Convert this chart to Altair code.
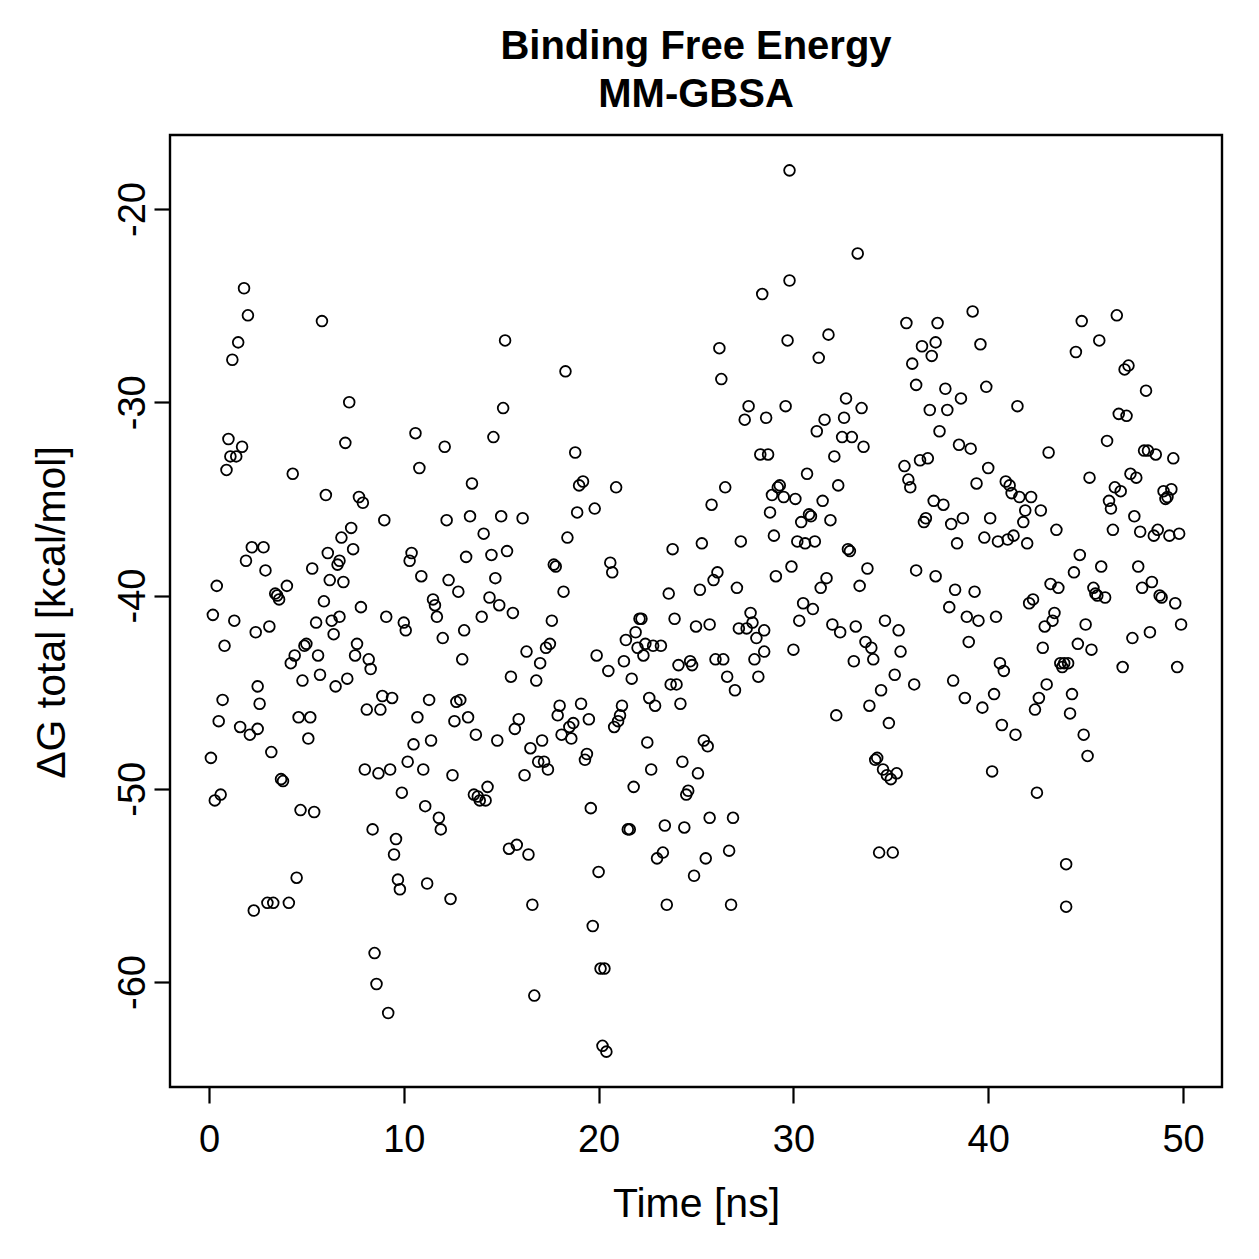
import altair as alt
import pandas as pd

# Simulation time of each frame (ns)
time_ns = [
    0.1, 0.2, 0.3, 0.4, 0.5, 0.6, 0.7, 0.8, 0.9, 1.0,
    1.1, 1.2, 1.3, 1.4, 1.5, 1.6, 1.7, 1.8, 1.9, 2.0,
    2.1, 2.2, 2.3, 2.4, 2.5, 2.6, 2.5, 2.8, 2.9, 3.0,
    3.1, 3.2, 3.3, 3.4, 3.5, 3.6, 3.7, 3.8, 4.0, 4.1,
    4.2, 4.3, 4.4, 4.5, 4.6, 4.7, 4.8, 4.9, 5.0, 5.1,
    5.2, 5.3, 5.4, 5.5, 5.6, 5.7, 5.8, 5.9, 6.0, 6.1,
    6.2, 6.3, 6.4, 6.5, 6.6, 6.7, 6.7, 6.8, 6.9, 7.0,
    7.1, 7.2, 7.3, 7.4, 7.5, 7.6, 7.7, 7.8, 7.9, 8.0,
    8.1, 8.2, 8.3, 8.4, 8.5, 8.6, 8.7, 8.8, 8.9, 9.0,
    9.1, 9.2, 9.3, 9.4, 9.5, 9.6, 9.7, 9.8, 9.9, 10.0,
    10.1, 10.2, 10.3, 10.4, 10.5, 10.6, 10.7, 10.8, 10.9, 11.0,
    11.1, 11.2, 11.3, 11.4, 11.5, 11.6, 11.7, 11.8, 11.9, 12.0,
    12.1, 12.2, 12.3, 12.4, 12.5, 12.6, 12.7, 12.8, 12.9, 13.0,
    13.1, 13.2, 13.3, 13.4, 13.5, 13.6, 13.7, 13.8, 13.9, 14.0,
    14.1, 14.2, 14.3, 14.4, 14.5, 14.6, 14.7, 14.8, 14.9, 15.0,
    15.1, 15.2, 15.3, 15.4, 15.5, 15.6, 15.7, 15.8, 15.9, 16.1,
    16.2, 16.3, 16.4, 16.5, 16.6, 16.7, 16.8, 16.9, 17.0, 17.1,
    17.2, 17.3, 17.4, 17.5, 17.6, 17.7, 17.8, 17.9, 18.0, 18.1,
    18.2, 18.3, 18.4, 18.5, 18.6, 18.7, 18.8, 18.9, 19.0, 19.1,
    19.2, 19.3, 19.4, 19.5, 19.6, 19.7, 19.8, 19.9, 20.0, 20.1,
    20.2, 20.3, 20.4, 20.5, 20.6, 20.7, 20.8, 20.9, 21.0, 21.1,
    21.2, 21.3, 21.4, 21.5, 21.6, 21.7, 21.8, 21.9, 22.0, 22.1,
    22.2, 22.3, 22.4, 22.5, 22.6, 22.7, 22.8, 22.9, 23.0, 23.2,
    23.3, 23.4, 23.5, 23.6, 23.7, 23.8, 23.9, 24.0, 24.1, 24.2,
    24.3, 24.4, 24.5, 24.6, 24.7, 24.8, 24.9, 25.0, 25.1, 25.2,
    25.3, 25.4, 25.5, 25.6, 25.7, 25.7, 25.8, 25.9, 26.0, 26.1,
    26.2, 26.3, 26.4, 26.5, 26.6, 26.7, 26.8, 26.9, 27.0, 27.1,
    27.2, 27.3, 27.5, 27.6, 27.7, 27.8, 27.9, 28.0, 28.1, 28.2,
    28.3, 28.4, 28.5, 28.5, 28.6, 28.7, 28.8, 28.9, 29.0, 29.1,
    29.2, 29.3, 29.5, 29.6, 29.7, 29.8, 29.8, 29.9, 30.0, 30.1,
    30.2, 30.3, 30.4, 30.5, 30.6, 30.7, 30.8, 30.9, 31.0, 31.1,
    31.2, 31.3, 31.4, 31.5, 31.6, 31.7, 31.8, 31.9, 32.0, 32.1,
    32.2, 32.3, 32.4, 32.5, 32.6, 32.7, 32.8, 32.9, 33.0, 33.1,
    33.2, 33.3, 33.4, 33.5, 33.6, 33.7, 33.8, 33.9, 34.0, 34.1,
    34.2, 34.3, 34.4, 34.5, 34.6, 34.7, 34.8, 34.9, 35.0, 35.1,
    35.2, 35.3, 35.4, 35.5, 35.7, 35.8, 35.9, 36.0, 36.1, 36.2,
    36.3, 36.3, 36.5, 36.6, 36.7, 36.8, 36.9, 37.0, 37.1, 37.2,
    37.3, 37.3, 37.4, 37.5, 37.7, 37.8, 37.9, 38.0, 38.1, 38.2,
    38.3, 38.4, 38.5, 38.6, 38.7, 38.8, 38.9, 39.0, 39.1, 39.2,
    39.3, 39.4, 39.5, 39.6, 39.7, 39.8, 39.9, 40.0, 40.1, 40.2,
    40.3, 40.4, 40.5, 40.6, 40.7, 40.8, 40.9, 41.0, 41.1, 41.2,
    41.3, 41.4, 41.5, 41.6, 41.8, 41.9, 42.0, 42.1, 42.2, 42.3,
    42.4, 42.5, 42.6, 42.7, 42.8, 42.9, 43.0, 43.1, 43.2, 43.3,
    43.4, 43.5, 43.6, 43.7, 43.8, 43.9, 44.0, 44.0, 44.1, 44.2,
    44.3, 44.4, 44.5, 44.6, 44.7, 44.8, 44.9, 45.0, 45.1, 45.2,
    45.3, 45.4, 45.5, 45.6, 45.7, 45.8, 46.0, 46.1, 46.2, 46.3,
    46.4, 46.5, 46.6, 46.7, 46.8, 46.9, 47.0, 47.1, 47.2, 47.3,
    47.4, 47.5, 47.6, 47.7, 47.8, 47.9, 48.0, 48.1, 48.2, 48.3,
    48.4, 48.5, 48.6, 48.7, 48.8, 48.9, 49.0, 49.1, 49.2, 49.3,
    49.4, 49.5, 49.6, 49.7, 49.8, 49.9,
]

# Total binding free energy per frame (kcal/mol)
dg_total = [
    -48.4, -41.0, -50.6, -39.5, -46.5, -50.3, -45.4, -42.6, -33.5, -31.9,
    -32.8, -27.8, -41.3, -32.8, -26.9, -46.8, -32.3, -24.1, -38.2, -25.5,
    -47.2, -37.5, -56.3, -41.9, -44.7, -45.6, -46.9, -37.5, -38.7, -55.9,
    -41.6, -48.1, -55.9, -39.9, -40.0, -40.2, -49.5, -49.6, -39.5, -55.9,
    -43.5, -33.7, -43.1, -54.6, -46.3, -51.1, -44.4, -42.6, -42.5, -47.4,
    -46.3, -38.6, -51.2, -41.4, -43.1, -44.1, -25.8, -40.3, -34.8, -37.8,
    -39.2, -41.3, -42.0, -44.7, -38.4, -41.1, -38.2, -37.0, -39.3, -32.1,
    -44.3, -30.0, -36.5, -37.6, -43.1, -42.5, -34.9, -40.6, -35.2, -49.0,
    -45.9, -43.3, -43.8, -52.1, -58.5, -60.1, -49.2, -45.9, -45.2, -36.1,
    -41.1, -61.6, -49.0, -45.3, -53.4, -52.6, -54.7, -55.2, -50.2, -41.4,
    -41.8, -48.6, -38.2, -37.8, -47.7, -31.6, -46.3, -33.4, -39.0, -49.0,
    -50.9, -54.9, -45.4, -47.5, -40.2, -40.5, -41.1, -51.5, -52.1, -42.2,
    -32.3, -36.1, -39.2, -55.7, -49.3, -46.5, -45.5, -39.8, -45.4, -43.3,
    -41.8, -38.0, -46.3, -35.9, -34.2, -50.3, -47.2, -50.4, -50.6, -41.1,
    -36.8, -50.6, -49.9, -40.1, -37.9, -31.8, -39.1, -47.5, -40.5, -35.9,
    -30.3, -26.8, -37.7, -53.1, -44.2, -40.9, -46.9, -52.9, -46.4, -36.0,
    -49.3, -42.9, -53.4, -47.9, -56.0, -60.7, -44.4, -48.6, -43.5, -47.5,
    -48.6, -42.7, -49.0, -42.5, -41.3, -38.4, -38.5, -46.2, -45.7, -47.2,
    -39.8, -28.4, -37.0, -46.8, -47.4, -46.6, -32.6, -35.7, -34.3, -45.6,
    -34.1, -48.5, -48.2, -46.4, -51.0, -57.1, -35.5, -43.1, -54.3, -59.3,
    -63.3, -59.3, -63.6, -43.9, -38.3, -38.8, -46.8, -34.4, -46.5, -46.2,
    -45.7, -43.4, -42.3, -52.1, -52.1, -44.3, -49.9, -41.9, -42.7, -41.2,
    -41.2, -43.1, -42.5, -47.6, -45.3, -49.0, -42.6, -45.7, -53.6, -42.6,
    -53.3, -51.9, -56.0, -39.9, -44.6, -37.6, -41.2, -44.6, -43.6, -45.6,
    -48.6, -52.0, -50.3, -50.1, -43.4, -43.6, -54.5, -41.6, -49.2, -39.7,
    -37.3, -47.5, -53.6, -47.8, -51.5, -41.5, -35.3, -39.2, -43.3, -38.8,
    -27.2, -28.8, -43.3, -34.4, -44.2, -53.2, -56.0, -51.5, -44.9, -39.6,
    -41.7, -37.2, -30.9, -41.7, -30.2, -40.9, -41.4, -43.3, -42.2, -44.2,
    -32.7, -24.4, -42.9, -41.8, -30.8, -32.7, -35.7, -34.8, -36.9, -39.0,
    -34.4, -34.3, -34.9, -30.2, -26.8, -18.0, -23.7, -38.5, -42.8, -35.0,
    -37.2, -41.3, -36.2, -40.4, -37.3, -33.7, -35.8, -35.9, -40.7, -37.2,
    -31.5, -27.7, -39.6, -35.1, -30.9, -39.1, -26.5, -36.1, -41.5, -32.8,
    -46.2, -34.3, -41.9, -31.8, -30.8, -29.8, -37.6, -37.7, -31.8, -43.4,
    -41.6, -22.3, -39.5, -30.3, -32.3, -42.4, -38.6, -45.7, -42.7, -43.3,
    -48.5, -48.4, -53.3, -44.9, -49.0, -41.3, -49.3, -46.6, -49.5, -53.3,
    -44.1, -49.2, -41.8, -42.9, -33.3, -25.9, -34.0, -34.4, -28.0, -44.6,
    -29.1, -38.7, -33.0, -27.1, -36.2, -36.0, -32.9, -30.4, -27.6, -35.1,
    -39.0, -26.9, -25.9, -31.5, -35.3, -29.3, -30.4, -40.6, -36.3, -44.4,
    -39.7, -37.3, -32.2, -29.8, -36.0, -45.3, -41.1, -42.4, -32.4, -25.3,
    -39.8, -34.2, -41.3, -27.0, -45.8, -37.0, -29.2, -33.4, -36.0, -49.1,
    -45.1, -41.1, -37.2, -43.5, -46.7, -43.9, -34.1, -37.1, -34.3, -34.7,
    -36.9, -47.2, -30.2, -34.9, -36.2, -35.6, -37.3, -40.4, -34.9, -40.2,
    -45.9, -50.2, -45.3, -35.6, -42.7, -41.6, -44.6, -32.6, -39.4, -41.3,
    -40.9, -36.6, -39.6, -43.5, -43.7, -43.5, -53.9, -56.1, -43.5, -46.1,
    -45.1, -38.8, -27.4, -42.5, -37.9, -25.8, -47.2, -41.5, -48.3, -33.9,
    -42.8, -39.6, -39.9, -40.0, -26.8, -38.5, -40.1, -32.0, -35.1, -35.5,
    -36.6, -34.4, -25.5, -30.6, -34.6, -43.7, -28.3, -30.7, -28.1, -33.7,
    -42.2, -35.9, -33.9, -38.5, -36.7, -39.6, -32.5, -29.4, -32.5, -41.9,
    -39.3, -36.9, -32.7, -36.6, -40.0, -40.1, -34.6, -35.0, -34.9, -36.9,
    -34.5, -32.9, -40.4, -43.7, -36.8, -41.5,
]

assert len(time_ns) == len(dg_total)

title_lines = ["Binding Free Energy", "MM-GBSA"]
x_title = "Time [ns]"
y_title = "ΔG total [kcal/mol]"
x_ticks = [0, 10, 20, 30, 40, 50]
y_ticks = [-60, -50, -40, -30, -20]

FONT = "Liberation Sans"

df = pd.DataFrame({"time": time_ns, "dg": dg_total})

chart = (
    alt.Chart(df)
    .mark_point(shape="circle", filled=False, color="black", size=115,
                strokeWidth=1.8, opacity=1)
    .encode(
        x=alt.X(
            "time:Q",
            scale=alt.Scale(domain=[-2, 52], nice=False, zero=False),
            axis=alt.Axis(
                values=x_ticks, title=x_title, domain=False, grid=False,
                tickSize=16, tickWidth=2.2, tickColor="black",
                labelFont=FONT, labelFontSize=38, labelColor="black",
                labelPadding=18, labelFlush=False, labelBaseline="top",
                titleFont=FONT, titleFontSize=41, titleFontWeight="normal",
                titleColor="black", titleX=526, titleY=129,
                titleBaseline="alphabetic", titleAlign="center",
            ),
        ),
        y=alt.Y(
            "dg:Q",
            scale=alt.Scale(domain=[-65.43, -16.17], nice=False, zero=False),
            axis=alt.Axis(
                values=y_ticks, title=y_title, domain=False, grid=False,
                tickSize=16, tickWidth=2.2, tickColor="black",
                labelExpr="'' + datum.value",
                labelFont=FONT, labelFontSize=38, labelColor="black",
                labelAngle=270, labelAlign="center", labelBaseline="alphabetic",
                labelPadding=10, labelFlush=False,
                titleFont=FONT, titleFontSize=41, titleFontWeight="normal",
                titleColor="black", titleAngle=270, titleX=-118, titleY=477,
                titleAlign="center", titleBaseline="middle",
            ),
        ),
    )
    .properties(
        width=1052,
        height=952,
        title=alt.TitleParams(
            text=title_lines, font=FONT, fontSize=40, fontWeight="bold",
            color="black", anchor="middle", frame="group",
            lineHeight=48, offset=20,
        ),
        autosize=alt.AutoSizeParams(type="none"),
        padding={"left": 170, "top": 135, "right": 37, "bottom": 172},
        background="white",
    )
    .configure_view(stroke="black", strokeWidth=2.4)
)

chart.save("out.html", embed_options={"renderer": "svg", "actions": False})
